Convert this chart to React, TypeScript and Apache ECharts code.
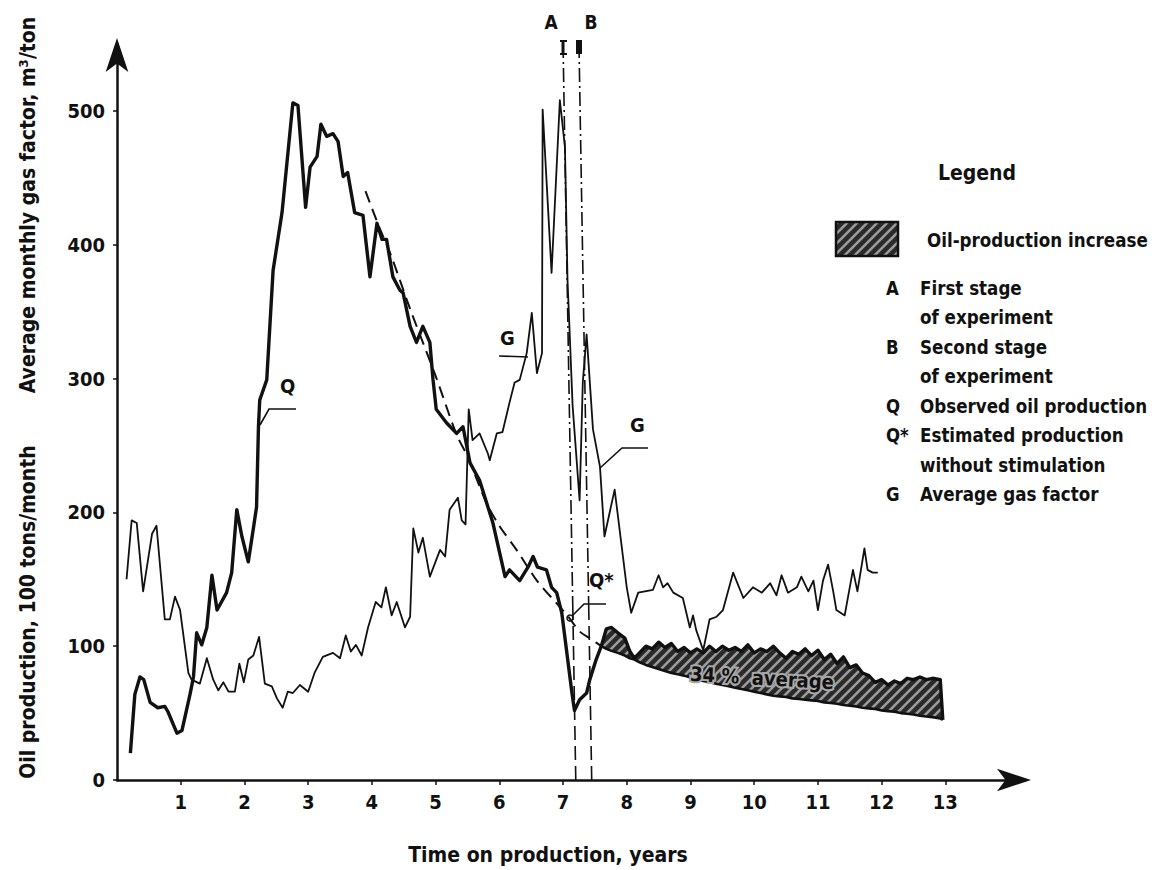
import React, { useEffect, useRef } from "react";
import * as echarts from "echarts";

// ---- Data ----
// Observed oil production Q (100 tons/month), before the hatched region
const qX = [0.21, 0.28, 0.36, 0.42, 0.52, 0.64, 0.75, 0.8, 0.94, 1.02, 1.15, 1.2, 1.25, 1.33, 1.41, 1.49, 1.57, 1.72, 1.8, 1.88, 1.96, 2.06, 2.14, 2.19, 2.22, 2.24, 2.35, 2.45, 2.59, 2.76, 2.84, 2.96, 3.03, 3.14, 3.2, 3.29, 3.39, 3.47, 3.55, 3.62, 3.73, 3.86, 3.97, 4.08, 4.16, 4.23, 4.33, 4.44, 4.49, 4.6, 4.7, 4.8, 4.91, 4.96, 5.01, 5.17, 5.33, 5.43, 5.54, 5.69, 5.9, 6.09, 6.16, 6.32, 6.45, 6.53, 6.6, 6.74, 6.82, 6.9, 6.98, 7.14, 7.18, 7.26, 7.37, 7.42, 7.52];
const qY = [20, 64, 77, 75, 58, 54, 55, 51, 35, 37, 65, 77, 110, 101, 114, 153, 127, 140, 155, 202, 182, 163, 188, 204, 264, 284, 299, 381, 424, 506, 504, 428, 458, 466, 490, 481, 483, 477, 451, 454, 424, 422, 376, 416, 404, 404, 376, 366, 364, 339, 327, 339, 327, 299, 277, 267, 259, 264, 237, 224, 192, 152, 157, 149, 159, 167, 159, 157, 144, 140, 125, 65, 52, 60, 65, 75, 90];

// Hatched region: Q (top) and Q* (bottom) at the same times
const hatchX = [7.6, 7.68, 7.76, 7.86, 7.97, 8.05, 8.12, 8.2, 8.3, 8.4, 8.5, 8.6, 8.7, 8.8, 8.9, 9.0, 9.1, 9.2, 9.3, 9.4, 9.5, 9.6, 9.7, 9.8, 9.9, 10.0, 10.1, 10.2, 10.3, 10.4, 10.5, 10.6, 10.7, 10.8, 10.9, 11.0, 11.1, 11.2, 11.3, 11.4, 11.5, 11.6, 11.7, 11.8, 11.9, 12.0, 12.1, 12.2, 12.3, 12.4, 12.5, 12.6, 12.7, 12.8, 12.92, 12.96];
const hatchTop = [100, 113, 114, 110, 106, 96, 91, 95, 100, 98, 103, 99, 102, 96, 99, 95, 98, 95, 100, 96, 100, 97, 99, 96, 101, 95, 98, 96, 100, 95, 91, 96, 94, 98, 93, 97, 90, 94, 87, 92, 84, 86, 80, 78, 73, 75, 71, 74, 72, 76, 75, 77, 75, 76, 75, 45];
const hatchBase = [100, 98, 96.5, 95, 93, 91, 90, 88, 86, 84.5, 83, 81.5, 80, 79, 78, 76.5, 75, 74, 73, 72, 71, 70, 69, 68, 67, 66, 65, 64, 63, 62.5, 62, 61, 60.5, 60, 59.5, 59, 58, 57.5, 57, 56, 55.5, 55, 54, 53.5, 53, 52, 51.5, 51, 50, 49.5, 49, 48, 47.5, 47, 46, 45];

// Estimated production without stimulation Q* (dashed part)
const qsX = [3.9, 4.1, 4.3, 4.6, 5.0, 5.33, 5.5, 5.8, 6.0, 6.27, 6.59, 6.9, 7.1, 7.26, 7.45, 7.6];
const qsY = [440, 415, 392, 352, 302, 258, 242, 207, 190, 172, 149, 132, 121, 111, 105, 100];

// Average gas factor G (m3/ton)
const gX = [0.15, 0.23, 0.31, 0.41, 0.55, 0.62, 0.75, 0.83, 0.91, 0.99, 1.12, 1.17, 1.3, 1.41, 1.51, 1.59, 1.67, 1.75, 1.85, 1.92, 1.99, 2.06, 2.14, 2.23, 2.32, 2.43, 2.51, 2.6, 2.68, 2.76, 2.87, 3.0, 3.1, 3.23, 3.39, 3.5, 3.59, 3.67, 3.75, 3.84, 3.94, 4.06, 4.15, 4.22, 4.31, 4.39, 4.52, 4.6, 4.65, 4.73, 4.8, 4.91, 5.07, 5.15, 5.22, 5.35, 5.41, 5.47, 5.52, 5.58, 5.69, 5.82, 5.85, 5.96, 6.05, 6.16, 6.24, 6.32, 6.43, 6.51, 6.59, 6.67, 6.68, 6.82, 6.95, 7.03, 7.07, 7.15, 7.26, 7.31, 7.37, 7.47, 7.58, 7.65, 7.81, 8.0, 8.07, 8.18, 8.41, 8.5, 8.57, 8.64, 8.73, 8.88, 8.99, 9.04, 9.09, 9.2, 9.3, 9.41, 9.51, 9.67, 9.83, 9.98, 10.12, 10.25, 10.35, 10.43, 10.53, 10.67, 10.74, 10.85, 10.93, 11.0, 11.08, 11.16, 11.24, 11.29, 11.42, 11.55, 11.62, 11.73, 11.78, 11.86, 11.94];
const gY = [150, 194, 192, 141, 184, 190, 120, 120, 137, 127, 80, 75, 72, 91, 75, 67, 73, 66, 66, 87, 73, 90, 93, 107, 72, 70, 61, 54, 66, 65, 71, 66, 80, 92, 95, 91, 108, 96, 101, 93, 114, 133, 129, 144, 123, 133, 114, 122, 188, 170, 181, 152, 172, 167, 202, 211, 194, 191, 277, 254, 259, 244, 239, 259, 260, 282, 297, 299, 319, 349, 304, 319, 501, 379, 508, 473, 374, 280, 209, 297, 333, 262, 234, 182, 217, 144, 125, 140, 142, 153, 144, 147, 140, 136, 114, 123, 112, 97, 120, 122, 127, 155, 136, 144, 140, 147, 138, 153, 140, 144, 152, 141, 149, 127, 149, 161, 141, 127, 123, 157, 141, 173, 157, 155, 155];

const xTicks = [1, 2, 3, 4, 5, 6, 7, 8, 9, 10, 11, 12, 13];
const yTicks = [0, 100, 200, 300, 400, 500];

const legendKeys = ["A", "", "B", "", "Q", "Q*", "", "G"];
const legendTexts = ["First stage", "of experiment", "Second stage", "of experiment", "Observed oil production", "Estimated production", "without stimulation", "Average gas factor"];

const FONT = '"DejaVu Sans Condensed", "DejaVu Sans", sans-serif';

function makeHatch() {
  const c = document.createElement("canvas");
  c.width = 10;
  c.height = 10;
  const g = c.getContext("2d")!;
  g.fillStyle = "#2a2a2a";
  g.fillRect(0, 0, 10, 10);
  g.strokeStyle = "#9c9c9c";
  g.lineWidth = 2.6;
  g.beginPath();
  g.moveTo(-2, 12); g.lineTo(12, -2);
  g.moveTo(-7, 7); g.lineTo(7, -7);
  g.moveTo(3, 17); g.lineTo(17, 3);
  g.stroke();
  return c;
}

const zip = (xs: number[], ys: number[]) => xs.map((x, i) => [x, ys[i]]);

export default function App() {
  const ref = useRef<HTMLDivElement>(null);
  useEffect(() => {
    if (!ref.current) return;
    const chart = echarts.init(ref.current, undefined, { renderer: "svg" });
    const hatch = { image: makeHatch(), repeat: "repeat", imageWidth: 10, imageHeight: 10 } as any;
    const txt = (text: string, x: number, y: number, size = 20, extra: any = {}, align = "left") => ({
      type: "text",
      x,
      y,
      style: { text, fill: "#111", font: `bold ${size}px ${FONT}`, align, verticalAlign: "middle" },
      ...extra,
    });
    const pl = (points: number[][], w = 1.6) => ({
      type: "polyline",
      shape: { points },
      style: { stroke: "#111", lineWidth: w, fill: null },
    });
    const lineA = (y: number) => 7.0 + (0.2 * (550 - y)) / 550;
    const lineB = (y: number) => 7.25 + (0.2 * (550 - y)) / 550;
    const legendGraphics: any[] = [];
    legendTexts.forEach((t, i) => {
      const y = 288 + i * 29.5;
      const k = legendKeys[i];
      if (k) legendGraphics.push(txt(k, 886, y, 20, { scaleX: 0.92 }));
      legendGraphics.push(txt(t, 920, y, 20, { scaleX: 0.93 }));
    });

    chart.setOption({
      animation: false,
      backgroundColor: "#fff",
      grid: { left: 117, right: 131, top: 44, bottom: 90, containLabel: false },
      xAxis: {
        type: "value",
        min: 0,
        max: 14.25,
        interval: 1,
        axisLine: { show: true, symbol: ["none", "arrow"], symbolSize: [17, 34], symbolOffset: [0, 6], lineStyle: { color: "#111", width: 2.5 } },
        axisTick: { show: true, length: 5, customValues: xTicks, lineStyle: { color: "#111", width: 1.5 } },
        axisLabel: { customValues: xTicks, color: "#111", fontSize: 20, fontWeight: "bold", fontFamily: FONT, margin: 12 },
        splitLine: { show: false },
      },
      yAxis: {
        type: "value",
        min: 0,
        max: 550,
        interval: 100,
        axisLine: { show: true, symbol: ["none", "arrow"], symbolSize: [17, 34], symbolOffset: [0, 6], lineStyle: { color: "#111", width: 2.5 } },
        axisTick: { show: true, length: 4, customValues: yTicks, lineStyle: { color: "#111", width: 1.5 } },
        axisLabel: { customValues: yTicks, color: "#111", fontSize: 20, fontWeight: "bold", fontFamily: FONT, margin: 12 },
        splitLine: { show: false },
      },
      series: [
        {
          name: "Oil-production increase",
          type: "custom",
          silent: true,
          z: 1,
          data: [[hatchX[0], hatchBase[0]]],
          renderItem: (_params: any, api: any) => {
            const top = hatchX.map((x, i) => api.coord([x, hatchTop[i]]));
            const bot = hatchX.map((x, i) => api.coord([x, hatchBase[i]])).reverse();
            return {
              type: "polygon",
              shape: { points: top.concat(bot) },
              style: { fill: hatch, stroke: "none" },
            };
          },
        },
        {
          name: "Q* (base)",
          type: "line",
          data: zip(hatchX, hatchBase),
          symbol: "none",
          lineStyle: { color: "#111", width: 2.6 },
          z: 2,
        },
        {
          name: "Q*",
          type: "line",
          data: zip(qsX, qsY),
          symbol: "none",
          smooth: 0.3,
          lineStyle: { color: "#111", width: 2, type: [12, 7] },
          z: 3,
        },
        {
          name: "Q",
          type: "line",
          data: zip(qX, qY).concat(zip(hatchX, hatchTop)),
          symbol: "none",
          lineStyle: { color: "#111", width: 3.4, join: "round" },
          z: 4,
        },
        {
          name: "G",
          type: "line",
          data: zip(gX, gY),
          symbol: "none",
          lineStyle: { color: "#111", width: 1.8, join: "round" },
          z: 5,
          markLine: {
            silent: true,
            symbol: ["none", "none"],
            label: { show: false },
            data: [
              [{ coord: [lineA(550), 550], lineStyle: { type: [14, 4, 2, 4] } }, { coord: [lineA(130), 130] }],
              [{ coord: [lineA(130), 130], lineStyle: { type: [14, 6] } }, { coord: [lineA(0), 0] }],
              [{ coord: [lineB(550), 550], lineStyle: { type: [14, 4, 2, 4] } }, { coord: [lineB(130), 130] }],
              [{ coord: [lineB(130), 130], lineStyle: { type: [14, 6] } }, { coord: [lineB(0), 0] }],
            ],
            lineStyle: { color: "#111", width: 1.6 },
          },
        },
      ],
      graphic: [
        // axis titles
        txt("Average monthly gas factor, m³/ton", 28, 205, 21, { rotation: Math.PI / 2 }, "center"),
        txt("Oil production, 100 tons/month", 28, 612, 21, { rotation: Math.PI / 2 }, "center"),
        txt("Time on production, years", 548, 855, 21, {}, "center"),
        // A / B markers
        txt("A", 551, 22, 19, {}, "center"),
        txt("B", 591, 22, 19, {}, "center"),
        pl([[560, 41], [567, 41]], 2), pl([[563, 41], [563, 54]], 3), pl([[560, 54], [567, 54]], 2),
        { type: "rect", shape: { x: 576, y: 40, width: 6, height: 14 }, style: { fill: "#111" } },
        // curve labels with leaders
        txt("Q", 280, 386, 20),
        pl([[260, 425], [269, 409], [296, 409]]),
        txt("G", 500, 338, 20),
        pl([[499, 356], [528, 357]]),
        txt("G", 630, 425, 20),
        pl([[600, 468], [622, 448], [648, 448]]),
        txt("Q*", 589, 580, 20),
        pl([[571, 617], [584, 604], [606, 604]]),
        { type: "circle", shape: { cx: 570, cy: 618, r: 3 }, style: { stroke: "#111", lineWidth: 1.5, fill: "#fff" } },
        // 34 % average
        { type: "text", x: 762, y: 678, rotation: -0.06, z: 10, style: { text: "34 %  average", fill: "#111", font: `bold 20px ${FONT}`, align: "center", verticalAlign: "middle", stroke: "#a8a8a8", lineWidth: 4 } },
        // Legend
        txt("Legend", 977, 173, 21, {}, "center"),
        { type: "rect", shape: { x: 836, y: 222, width: 62, height: 34 }, style: { fill: hatch, stroke: "#111", lineWidth: 2.5 } },
        txt("Oil-production increase", 927, 240, 20, { scaleX: 0.93 }),
        ...legendGraphics,
      ],
    });
    return () => chart.dispose();
  }, []);
  return <div ref={ref} style={{ position: "fixed", left: 0, top: 0, width: 1156, height: 870, background: "#fff" }} />;
}
